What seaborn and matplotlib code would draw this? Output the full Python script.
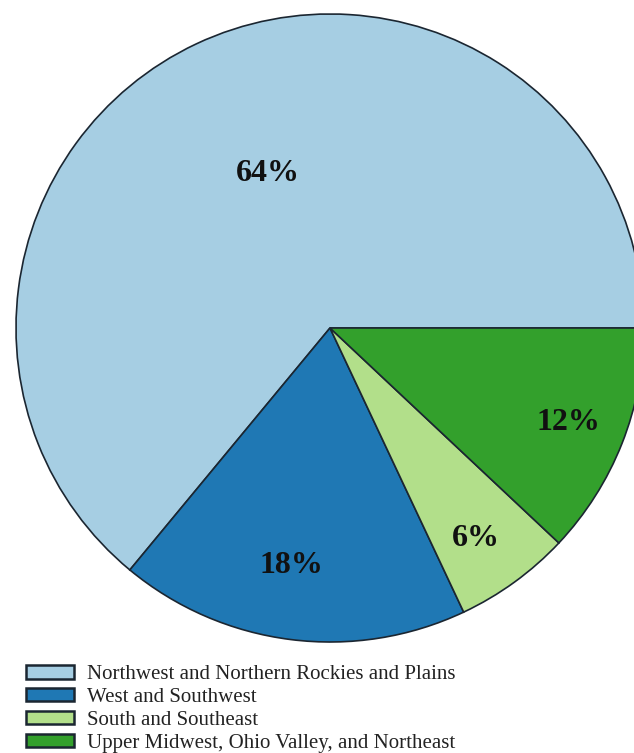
import numpy as np
import matplotlib
matplotlib.use("Agg")
import matplotlib.pyplot as plt
import seaborn as sns

regions = ["Northwest and Northern Rockies and Plains",
           "West and Southwest",
           "South and Southeast",
           "Upper Midwest, Ohio Valley, and Northeast"]
shares = [64, 18, 6, 12]
# where each percentage sits: fraction of radius, and fraction across the wedge
label_dist = [0.53, 0.765, 0.815, 0.815]
label_frac = [0.485, 0.47, 0.445, 0.5]

sns.set_theme(style="white")
plt.rcParams['font.family'] = ['Liberation Serif', 'DejaVu Serif']

colors = sns.color_palette("Paired", 4)

W, H = 634, 753
fig = plt.figure(figsize=(W / 100, H / 100), dpi=100)
ax = fig.add_axes([0, 0, 1, 1])

# pie centre and radius in pixels
cx, cy, r = 330, 328, 314

wedges, _ = ax.pie(shares, colors=colors, startangle=0, counterclock=True,
                   wedgeprops=dict(edgecolor="#1b2631", linewidth=1.2))

for w, d, f, s in zip(wedges, label_dist, label_frac, shares):
    ang = np.deg2rad(w.theta1 + f * (w.theta2 - w.theta1))
    ax.text(d * np.cos(ang), d * np.sin(ang), f"{s}%", ha="center", va="center",
            fontsize=23, fontweight="bold", color="#111111")

ax.set_xlim(-cx / r, (W - cx) / r)
ax.set_ylim(-(H - cy) / r, cy / r)
ax.set_aspect("auto")
ax.axis("off")

leg = fig.legend(wedges, regions, loc="upper left",
                 bbox_to_anchor=(16 / W, 1 - 655 / H),
                 frameon=False, fontsize=15, borderpad=0,
                 labelspacing=0.18, handlelength=2.3, handleheight=0.6,
                 handletextpad=0.6, labelcolor="#222222")
for h in leg.legend_handles:
    h.set_edgecolor("#1b2631")
    h.set_linewidth(1.8)

fig.savefig("out.png", dpi=100)
